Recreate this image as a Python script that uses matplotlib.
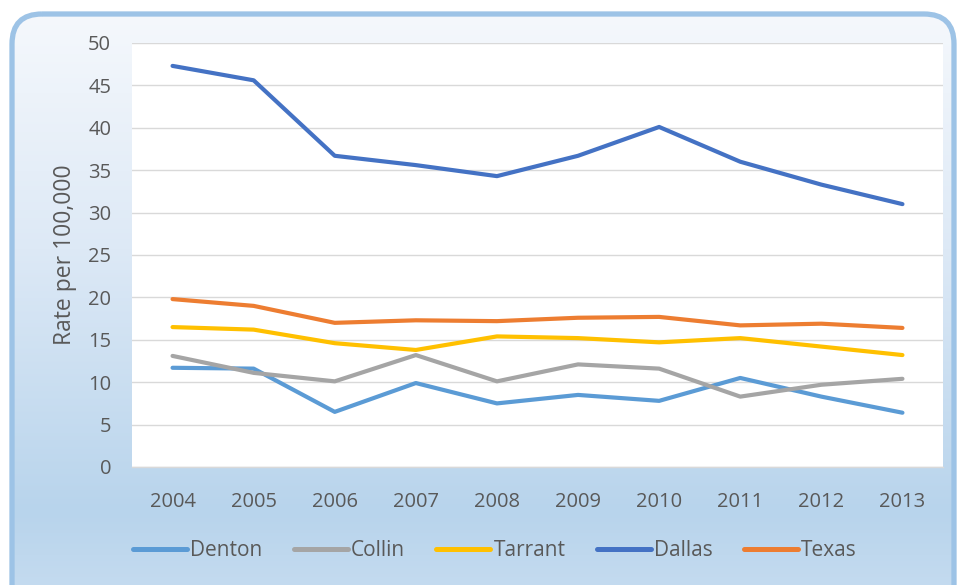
import numpy as np
import matplotlib
matplotlib.use("Agg")
import matplotlib.pyplot as plt
from matplotlib.patches import FancyBboxPatch
from matplotlib.colors import LinearSegmentedColormap

plt.rcParams['font.family'] = ['Open Sans', 'DejaVu Sans']

years = ['2004', '2005', '2006', '2007', '2008', '2009', '2010', '2011', '2012', '2013']
denton = [11.7, 11.6, 6.5, 9.9, 7.5, 8.5, 7.8, 10.5, 8.3, 6.4]
collin = [13.1, 11.1, 10.1, 13.2, 10.1, 12.1, 11.6, 8.3, 9.7, 10.4]
tarrant = [16.5, 16.2, 14.6, 13.8, 15.4, 15.2, 14.7, 15.2, 14.2, 13.2]
dallas = [47.3, 45.6, 36.7, 35.6, 34.3, 36.7, 40.1, 36.0, 33.3, 31.0]
texas = [19.8, 19.0, 17.0, 17.3, 17.2, 17.6, 17.7, 16.7, 16.9, 16.4]

series = [('Denton', denton, '#5b9bd5'),
          ('Collin', collin, '#a5a5a5'),
          ('Tarrant', tarrant, '#ffc000'),
          ('Dallas', dallas, '#4472c4'),
          ('Texas', texas, '#ed7d31')]

W, H = 961, 585
fig = plt.figure(figsize=(W / 100, H / 100), dpi=100)
fig.patch.set_facecolor('white')

# background panel with gradient and rounded blue border
bg = fig.add_axes([0, 0, 1, 1])
bg.set_xlim(0, W)
bg.set_ylim(H, 0)
bg.axis('off')
cmap = LinearSegmentedColormap.from_list('bg', [(0, '#f5f8fc'), (0.4, '#dde9f6'),
                                                (0.85, '#b8d4ec'), (1, '#c6dcf0')])
grad = np.linspace(0, 1, 256).reshape(-1, 1)
im = bg.imshow(grad, cmap=cmap, extent=[12, 954, 600, 14], aspect='auto', zorder=0)
box = FancyBboxPatch((12, 14), 942, 620, boxstyle='round,pad=0,rounding_size=30',
                     facecolor='none', edgecolor='#9dc3e6', linewidth=3.8, zorder=2)
bg.add_patch(box)
im.set_clip_path(box)

ax = fig.add_axes([132 / W, 1 - 467 / H, (943 - 132) / W, (467 - 43) / H])
ax.set_facecolor('white')
x = np.arange(len(years))
for name, vals, col in series:
    ax.plot(x, vals, color=col, lw=3.0, solid_capstyle='round',
            solid_joinstyle='round', label=name)

ax.set_xlim(-0.5, len(years) - 0.5)
ax.set_ylim(0, 50)
ax.set_yticks(np.arange(0, 51, 5))
ax.set_xticks(x)
ax.set_xticklabels(years)
ax.grid(axis='y', color='#d9d9d9', lw=1.0)
ax.set_axisbelow(True)
for s in ['top', 'right', 'left']:
    ax.spines[s].set_visible(False)
ax.spines['bottom'].set_color('#d9d9d9')
ax.spines['bottom'].set_linewidth(1.0)
ax.tick_params(length=0, labelsize=14.5, colors='#595959')
ax.tick_params(axis='y', pad=15)
ax.tick_params(axis='x', pad=18)
ax.set_ylabel('Rate per 100,000', fontsize=16.5, color='#595959', labelpad=8)

leg = fig.legend(loc='center', bbox_to_anchor=(0.515, 1 - 551 / H), ncol=5,
                 frameon=False, fontsize=15, handlelength=2.6, handletextpad=0.15,
                 columnspacing=1.5)
for t in leg.get_texts():
    t.set_color('#595959')
for l in leg.get_lines():
    l.set_linewidth(3.6)
    l.set_solid_capstyle('round')

fig.savefig('out.png', dpi=100)
